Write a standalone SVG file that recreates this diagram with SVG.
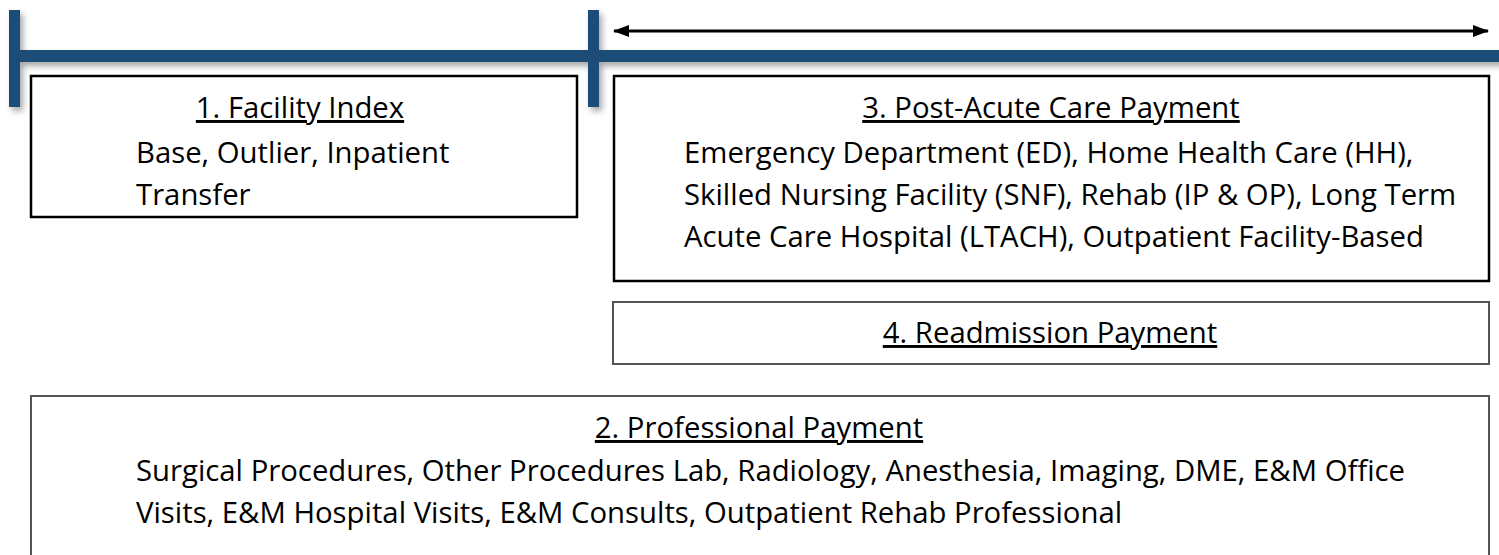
<svg xmlns="http://www.w3.org/2000/svg" width="1499" height="555" viewBox="0 0 1499 555">
<style>
.t{font-family:"Open Sans","Noto Sans","Liberation Sans",sans-serif;font-size:29.3px;fill:#000}
.u{text-decoration:underline}
.bx{fill:#fff;stroke:#000;stroke-width:2.5}
.gx{fill:#fff;stroke:#555;stroke-width:2}
.bar{fill:#1f4e79}
</style>
<defs>
<filter id="sh" x="-10%" y="-50%" width="120%" height="200%">
<feDropShadow dx="3" dy="4" stdDeviation="3" flood-color="#000" flood-opacity="0.35"/>
</filter>
<marker id="ah" viewBox="0 0 16 12" refX="15" refY="6" markerWidth="16" markerHeight="12" markerUnits="userSpaceOnUse" orient="auto-start-reverse">
<path d="M0,0 L16,6 L0,12 Z" fill="#000"/>
</marker>
</defs>
<g id="timeline" filter="url(#sh)">
<rect class="bar" x="14" y="50" width="1490" height="12"/>
<rect class="bar" x="9" y="10" width="11" height="97"/>
<rect class="bar" x="588" y="10" width="11" height="97"/>
</g>
<g id="connectors">
<line x1="614" y1="31" x2="1488" y2="31" stroke="#000" stroke-width="3" marker-start="url(#ah)" marker-end="url(#ah)"/>
</g>
<g id="node1">
<rect class="bx" x="31" y="76" width="546" height="141"/>
<text class="t u" x="300" y="118" text-anchor="middle">1. Facility Index</text>
<text class="t" x="136" y="163">Base, Outlier, Inpatient</text>
<text class="t" x="136" y="205">Transfer</text>
</g>
<g id="node3">
<rect class="bx" x="614" y="76" width="875" height="205"/>
<text class="t u" x="1051" y="118" text-anchor="middle">3. Post-Acute Care Payment</text>
<text class="t" x="684" y="163">Emergency Department (ED), Home Health Care (HH),</text>
<text class="t" x="684" y="205">Skilled Nursing Facility (SNF), Rehab (IP &amp; OP), Long Term</text>
<text class="t" x="684" y="247">Acute Care Hospital (LTACH), Outpatient Facility-Based</text>
</g>
<g id="node4">
<rect class="gx" x="613" y="302" width="876" height="62"/>
<text class="t u" x="1050" y="343" text-anchor="middle">4. Readmission Payment</text>
</g>
<g id="node2">
<rect class="gx" x="31" y="396" width="1458" height="170"/>
<text class="t u" x="759" y="438" text-anchor="middle">2. Professional Payment</text>
<text class="t" x="136" y="481">Surgical Procedures, Other Procedures Lab, Radiology, Anesthesia, Imaging, DME, E&amp;M Office</text>
<text class="t" x="136" y="523">Visits, E&amp;M Hospital Visits, E&amp;M Consults, Outpatient Rehab Professional</text>
</g>
</svg>
